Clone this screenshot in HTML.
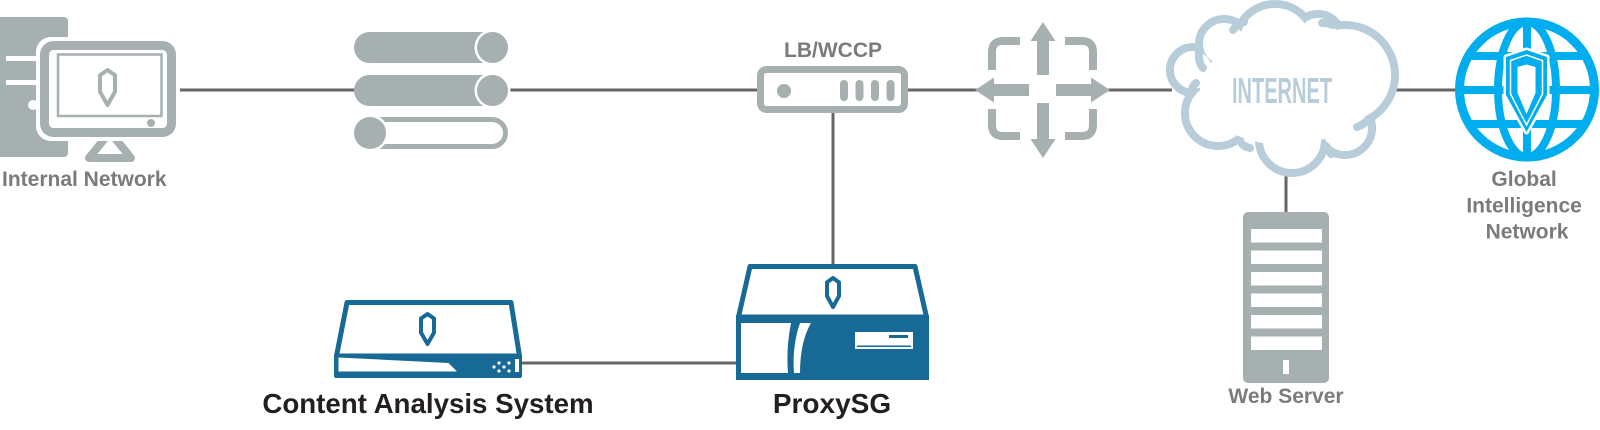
<!DOCTYPE html>
<html>
<head>
<meta charset="utf-8">
<style>
html,body{margin:0;padding:0;background:#fff;}
svg{display:block;}
text{font-family:"Liberation Sans",Arial,sans-serif;font-weight:bold;}
</style>
</head>
<body>
<svg width="1600" height="430" viewBox="0 0 1600 430" xmlns="http://www.w3.org/2000/svg">
<defs>
<clipPath id="gc"><circle cx="1527" cy="89.5" r="69"/></clipPath>
</defs>

<!-- connectors -->
<g stroke="#666668" stroke-width="3" fill="none">
<line x1="176" y1="90" x2="356" y2="90"/>
<line x1="506" y1="90" x2="758" y2="90"/>
<line x1="907" y1="90" x2="977" y2="90"/>
<line x1="1108" y1="90" x2="1172" y2="90"/>
<line x1="1394" y1="90" x2="1458" y2="90"/>
<line x1="833" y1="112" x2="833" y2="265"/>
<line x1="1286" y1="174" x2="1286" y2="213"/>
<line x1="520" y1="363" x2="737" y2="363"/>
</g>

<!-- Internal network computer -->
<g>
<rect x="-6" y="17" width="74" height="140" rx="4" fill="#a7b0b0"/>
<rect x="6" y="56" width="40" height="5" fill="#fff"/>
<rect x="6" y="80" width="40" height="5" fill="#fff"/>
<circle cx="33" cy="105" r="5" fill="#fff"/>
<path d="M89,158 L131,158 L110,132 Z" fill="#fff" stroke="#a7b0b0" stroke-width="8" stroke-linejoin="round"/>
<rect x="36" y="37" width="144" height="104" rx="15" fill="#fff"/>
<rect x="44.5" y="45.5" width="127" height="87" rx="9" fill="#fff" stroke="#a7b0b0" stroke-width="9"/>
<rect x="58" y="54.5" width="103.5" height="61.5" fill="none" stroke="#a7b0b0" stroke-width="2.5"/>
<circle cx="151" cy="123" r="4" fill="#a7b0b0"/>
<path d="M100,75.3 L107.5,70 L115,75.3 L115,91.7 L107.5,105 L100,91.7 Z" fill="none" stroke="#a7b0b0" stroke-width="4" stroke-linejoin="round"/>
</g>
<text x="2" y="186" font-size="21" fill="#7b7b7b">Internal Network</text>

<!-- pills stack -->
<g fill="#a7b0b0">
<rect x="354" y="32" width="154" height="31" rx="15.5"/>
<circle cx="492.5" cy="47.5" r="18" fill="#fff"/>
<circle cx="492.5" cy="47.5" r="15.5"/>
<rect x="354" y="75" width="154" height="31" rx="15.5"/>
<circle cx="492.5" cy="90.5" r="18" fill="#fff"/>
<circle cx="492.5" cy="90.5" r="15.5"/>
<rect x="360.5" y="119.5" width="145" height="27" rx="13.5" fill="#fff" stroke="#a7b0b0" stroke-width="5"/>
<circle cx="370" cy="133" r="18.5" fill="#fff"/>
<circle cx="370" cy="133" r="16"/>
</g>

<!-- LB/WCCP -->
<text x="833" y="57" font-size="21" fill="#7b7b7b" text-anchor="middle">LB/WCCP</text>
<rect x="760.5" y="69.5" width="144" height="40" rx="6" fill="#fff" stroke="#a7b0b0" stroke-width="7"/>
<circle cx="784" cy="91" r="7" fill="#a7b0b0"/>
<g fill="#a7b0b0">
<rect x="840" y="80" width="8" height="21" rx="4"/>
<rect x="855.5" y="80" width="8" height="21" rx="4"/>
<rect x="871" y="80" width="8" height="21" rx="4"/>
<rect x="886.5" y="80" width="8" height="21" rx="4"/>
</g>

<!-- router icon -->
<g fill="#a7b0b0">
<path d="M1043,22 L1055.5,41 L1049,41 L1049,75 L1037,75 L1037,41 L1030.5,41 Z"/>
<path d="M1043,158 L1055.5,139 L1049,139 L1049,103 L1037,103 L1037,139 L1030.5,139 Z"/>
<path d="M975,90 L994,77.5 L994,84 L1029,84 L1029,96 L994,96 L994,102.5 Z"/>
<path d="M1110,90 L1091,77.5 L1091,84 L1056,84 L1056,96 L1091,96 L1091,102.5 Z"/>
</g>
<g fill="none" stroke="#a7b0b0" stroke-width="8">
<path d="M992,70 L992,52 Q992,41 1003,41 L1020,41"/>
<path d="M1065,41 L1082,41 Q1093,41 1093,52 L1093,70"/>
<path d="M992,109 L992,125 Q992,136 1003,136 L1020,136"/>
<path d="M1065,136 L1082,136 Q1093,136 1093,125 L1093,109"/>
</g>

<!-- cloud -->
<g stroke="#b7cdda" stroke-width="8" fill="none">
<circle cx="1193" cy="70" r="23"/>
<circle cx="1224" cy="44" r="25"/>
<circle cx="1275" cy="44" r="40"/>
<circle cx="1318" cy="38" r="24"/>
<circle cx="1345" cy="75" r="50"/>
<circle cx="1345" cy="128" r="27"/>
<circle cx="1292" cy="140" r="33"/>
<circle cx="1218" cy="113" r="33"/>
</g>
<g fill="#fff">
<circle cx="1193" cy="70" r="19"/>
<circle cx="1224" cy="44" r="21"/>
<circle cx="1275" cy="44" r="36"/>
<circle cx="1318" cy="38" r="20"/>
<circle cx="1345" cy="75" r="46"/>
<circle cx="1345" cy="128" r="23"/>
<circle cx="1292" cy="140" r="29"/>
<circle cx="1218" cy="113" r="29"/>
<ellipse cx="1285" cy="90" rx="85" ry="55"/>
</g>
<g stroke="#b7cdda" stroke-width="8" fill="none" stroke-linecap="round">
<path d="M1199,52 Q1198,62 1203,68"/>
<path d="M1191,93 Q1192,86 1196,83"/>
<path d="M1244,22 Q1236,25 1233,30"/>
<path d="M1322,23 Q1328,23 1333,25"/>
<path d="M1368,120 Q1363,125 1357,127"/>
<path d="M1331,154 Q1328,150 1327,147"/>
<path d="M1250,148 Q1245,147 1242,144"/>
</g>
<text x="1232" y="103" font-size="36" fill="#b7cdda" textLength="100" lengthAdjust="spacingAndGlyphs">INTERNET</text>

<!-- Globe -->
<g>
<circle cx="1527" cy="89.5" r="67.5" fill="#fff" stroke="#00aeef" stroke-width="9"/>
<g clip-path="url(#gc)" stroke="#00aeef" stroke-width="8" fill="none">
<line x1="1450" y1="56" x2="1600" y2="56"/>
<line x1="1450" y1="90" x2="1600" y2="90"/>
<line x1="1450" y1="124" x2="1600" y2="124"/>
<line x1="1527" y1="15" x2="1527" y2="165"/>
<ellipse cx="1527" cy="89.5" rx="29" ry="67.5"/>
</g>
<path d="M1506,57 L1526.5,50 L1547,57 L1547,95 L1526.5,132 L1506,95 Z" fill="#00aeef" stroke="#fff" stroke-width="5" stroke-linejoin="round"/>
<path d="M1506,57 L1526.5,50 L1547,57 L1547,95 L1526.5,132 L1506,95 Z" fill="#00aeef"/>
<path d="M1510.5,60.5 L1526.5,55 L1542.5,60.5 L1542.5,94 L1526.5,125 L1510.5,94 Z" fill="none" stroke="#fff" stroke-width="1.5"/>
<path d="M1517.5,67 L1526.5,64.5 L1535.5,67 L1535.5,93 L1526.5,114 L1517.5,93 Z" fill="#fff"/>
</g>
<text font-size="21" fill="#7b7b7b" text-anchor="middle">
<tspan x="1527" y="186">Global</tspan>
<tspan x="1527" y="212.5">Intelligence</tspan>
<tspan x="1527" y="238.5">Network</tspan>
</text>

<!-- Web server -->
<rect x="1243" y="212" width="86" height="171" rx="5" fill="#a7b0b0"/>
<g fill="#fff">
<rect x="1251" y="229" width="71" height="13.5"/>
<rect x="1251" y="250.5" width="71" height="13.5"/>
<rect x="1251" y="272" width="71" height="13.5"/>
<rect x="1251" y="293.5" width="71" height="13.5"/>
<rect x="1251" y="315" width="71" height="13.5"/>
<rect x="1251" y="336.5" width="71" height="13.5"/>
<rect x="1283" y="360" width="6" height="14"/>
</g>
<text x="1286" y="403" font-size="21" fill="#7b7b7b" text-anchor="middle">Web Server</text>

<!-- Content Analysis System -->
<g>
<path d="M347,302.5 L511,302.5 L519.5,356 L336.5,356 Z" fill="#fff" stroke="#176a96" stroke-width="5" stroke-linejoin="round"/>
<rect x="334" y="354" width="188" height="24" rx="2" fill="#176a96"/>
<path d="M338.5,357.5 L448.5,363 L457,371.5 L338.5,371.5 Z" fill="#fff"/>
<g fill="#fff">
<circle cx="494" cy="367" r="1.6"/>
<circle cx="499" cy="363" r="1.6"/>
<circle cx="499" cy="371" r="1.6"/>
<circle cx="504" cy="367" r="1.6"/>
<circle cx="509" cy="363" r="1.6"/>
<circle cx="509" cy="371" r="1.6"/>
<rect x="515" y="359" width="4" height="13"/>
</g>
<path d="M421,318.5 L427.5,314 L434,318.5 L434,332.6 L427.5,344 L421,332.6 Z" fill="none" stroke="#176a96" stroke-width="4" stroke-linejoin="round"/>
</g>
<text x="428" y="413" font-size="27.7" fill="#231f20" text-anchor="middle">Content Analysis System</text>

<!-- ProxySG -->
<g>
<path d="M750,266.5 L915,266.5 L926.5,317 L738.5,317 Z" fill="#fff" stroke="#176a96" stroke-width="5" stroke-linejoin="round"/>
<rect x="736" y="315" width="193" height="65" fill="#176a96"/>
<path d="M741,323 L791,323 Q786,348 788,373 L741,373 Z" fill="#fff"/>
<path d="M800,323 L811,323 Q800,342 800,373 L794,373 Q792,346 800,323 Z" fill="#fff"/>
<rect x="855" y="332" width="58" height="17" fill="#fff"/>
<rect x="889" y="335" width="19" height="3" fill="#176a96"/>
<rect x="857" y="345.5" width="54" height="1.5" fill="#176a96"/>
<path d="M827,282.4 L833,278 L839,282.4 L839,296 L833,307 L827,296 Z" fill="none" stroke="#176a96" stroke-width="4" stroke-linejoin="round"/>
</g>
<text x="832" y="413" font-size="28" fill="#231f20" text-anchor="middle">ProxySG</text>
</svg>
</body>
</html>
